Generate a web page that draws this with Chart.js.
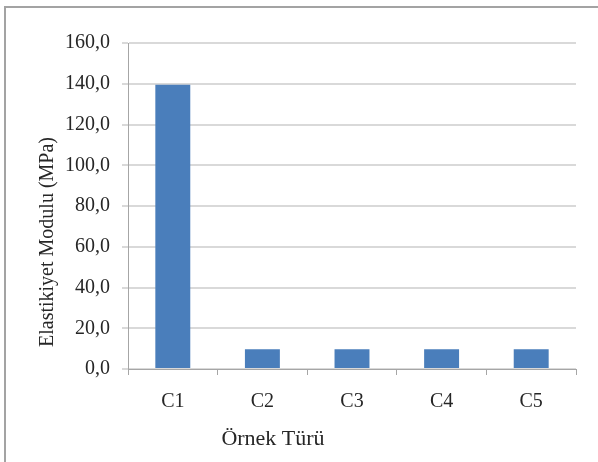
<!DOCTYPE html>
<html>
<head>
<meta charset="utf-8">
<script src="https://cdn.jsdelivr.net/npm/chart.js@4/dist/chart.umd.min.js"></script>
<style>
  html, body { margin: 0; padding: 0; background: #ffffff; }
  #wrap { position: relative; width: 598px; height: 462px; overflow: hidden; }
  #frame {
    position: absolute; left: 4px; top: 6px; right: -2px; bottom: -2px;
    border-top: 2px solid #a3a3a3; border-left: 2px solid #a3a3a3;
  }
  #c { position: absolute; left: 0; top: 0; }
</style>
</head>
<body>
<div id="wrap">
  <div id="frame"></div>
  <canvas id="c" width="598" height="462"></canvas>
</div>
<script>
// Sample types and their elastic modulus (MPa)
const categories = ['C1', 'C2', 'C3', 'C4', 'C5'];
const modulusValues = [139.5, 9.7, 9.7, 9.7, 9.7];
const yTickLabels = ['0,0', '20,0', '40,0', '60,0', '80,0', '100,0', '120,0', '140,0', '160,0'];
const xTitle = 'Örnek Türü';
const yTitle = 'Elastikiyet Modulu (MPa)';

const serif = "'Liberation Serif', 'Times New Roman', serif";
const textColor = '#262626';

// Axis titles drawn at fixed spots beside the plot area
const axisTitles = {
  id: 'axisTitles',
  afterDraw(chart) {
    const { ctx, chartArea } = chart;
    ctx.save();
    ctx.fillStyle = textColor;
    ctx.textAlign = 'center';
    ctx.textBaseline = 'middle';
    ctx.font = '22px ' + serif;
    ctx.fillText(xTitle, chartArea.left + 145, chartArea.bottom + 70);
    ctx.translate(48, chartArea.top + 199);
    ctx.rotate(-Math.PI / 2);
    ctx.font = '20px ' + serif;
    ctx.fillText(yTitle, 0, 0);
    ctx.restore();
  }
};

new Chart(document.getElementById('c'), {
  type: 'bar',
  data: {
    labels: categories,
    datasets: [{
      data: modulusValues,
      backgroundColor: '#4a7ebb',
      borderWidth: 0,
      barPercentage: 0.39,
      categoryPercentage: 1.0
    }]
  },
  options: {
    responsive: false,
    animation: false,
    layout: { padding: { left: 0, top: 43, right: 22, bottom: 0 } },
    plugins: { legend: { display: false }, tooltip: { enabled: false } },
    scales: {
      x: {
        afterFit(scale) { scale.height = 93; },
        grid: {
          display: true, drawOnChartArea: false, offset: true,
          tickLength: 6, color: '#a6a6a6', lineWidth: 1
        },
        border: { color: '#a6a6a6', width: 1 },
        ticks: { color: textColor, font: { family: serif, size: 20 }, padding: 15 }
      },
      y: {
        min: 0, max: 160,
        afterFit(scale) { scale.width = 128; },
        grid: { color: '#d9d9d9', lineWidth: 2, tickLength: 6 },
        border: { color: '#a6a6a6', width: 1 },
        ticks: {
          stepSize: 20,
          color: textColor,
          font: { family: serif, size: 20 },
          padding: 12,
          callback: (v) => yTickLabels[Math.round(v / 20)]
        }
      }
    }
  },
  plugins: [axisTitles]
});
</script>
</body>
</html>
